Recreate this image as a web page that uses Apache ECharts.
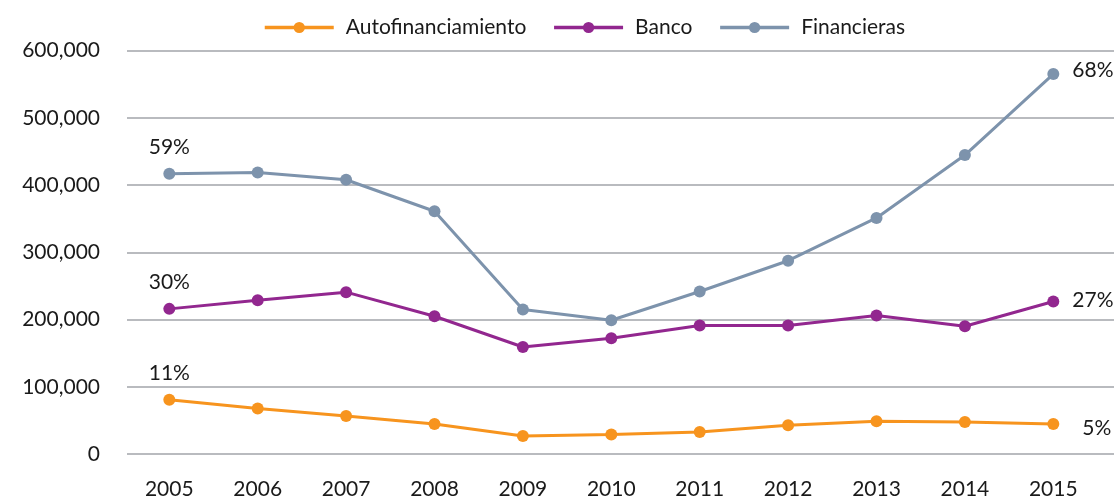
<!DOCTYPE html>
<html>
<head>
<meta charset="utf-8">
<script src="https://cdn.jsdelivr.net/npm/echarts@6/dist/echarts.min.js"></script>
<style>
  html, body { margin: 0; padding: 0; background: #ffffff; }
  #chart { width: 1114px; height: 500px; }
</style>
</head>
<body>
<div id="chart"></div>
<script>
// ---- data ----
const years = ['2005','2006','2007','2008','2009','2010','2011','2012','2013','2014','2015'];
const autofinanciamiento = [78000, 65000, 54000, 42000, 24000, 26000, 30000, 40000, 46000, 45000, 42000];
const banco = [214000, 227000, 239000, 203000, 157000, 170000, 189000, 189000, 204000, 188000, 225000];
const financieras = [416000, 418000, 407000, 360000, 213000, 197000, 240000, 286000, 350000, 444000, 565000];
const seriesNames = ['Autofinanciamiento', 'Banco', 'Financieras'];
// share labels shown at first and last point
const firstShare = ['11%', '30%', '59%'];
const lastShare = ['5%', '27%', '68%'];
const yTicks = [0, 100000, 200000, 300000, 400000, 500000, 600000];

const colors = ['#F7941E', '#92278F', '#7D93AC'];
const FONT = 'Lato';
const TXT = '#1a1a1a';

const chart = echarts.init(document.getElementById('chart'), null, { renderer: 'canvas' });

const seriesData = [autofinanciamiento, banco, financieras];
const lastOffsets = [[16, 4], [6, -1], [6, -4]];

const series = seriesData.map((vals, si) => ({
  name: seriesNames[si],
  type: 'line',
  xAxisIndex: 0,
  yAxisIndex: 0,
  data: vals.map((v, i) => {
    const d = { value: v };
    if (i === 0) {
      d.label = { show: true, position: 'top', distance: 10, formatter: firstShare[si] };
    } else if (i === vals.length - 1) {
      d.label = { show: true, position: 'right', distance: 7, offset: lastOffsets[si], formatter: lastShare[si] };
    }
    return d;
  }),
  symbol: 'circle',
  symbolSize: 12,
  showSymbol: true,
  lineStyle: { color: colors[si], width: 3 },
  itemStyle: { color: colors[si] },
  label: { show: false, color: TXT, fontFamily: FONT, fontSize: 21 },
  emphasis: { disabled: true },
  animation: false,
  z: 3 + si
}));

const option = {
  animation: false,
  textStyle: { fontFamily: FONT },
  legend: {
    left: 258,
    top: 12,
    itemWidth: 69,
    itemHeight: 14,
    itemGap: 26,
    data: seriesNames,
    lineStyle: { width: 3.5 },
    textStyle: { color: TXT, fontFamily: FONT, fontSize: 21, padding: [0, 0, 0, 7] },
    selectedMode: false
  },
  grid: [
    { left: 125.1, right: 16.5, top: 50.7, bottom: 46, containLabel: false },
    { left: 127, right: 0, top: 50.7, bottom: 46, containLabel: false }
  ],
  xAxis: [
    {
      type: 'category',
      gridIndex: 0,
      data: years,
      boundaryGap: true,
      axisLine: { show: false },
      axisTick: { show: false },
      axisLabel: { color: TXT, fontFamily: FONT, fontSize: 21, margin: 27 },
      splitLine: { show: false }
    },
    {
      type: 'value',
      gridIndex: 1,
      min: 0, max: 1,
      show: false
    }
  ],
  yAxis: [
    {
      type: 'value',
      gridIndex: 0,
      min: 0, max: 600000, interval: 100000,
      show: false
    },
    {
      type: 'value',
      gridIndex: 1,
      min: yTicks[0], max: yTicks[yTicks.length - 1], interval: 100000,
      axisLine: { show: false },
      axisTick: { show: false },
      axisLabel: {
        color: TXT, fontFamily: FONT, fontSize: 21, margin: 27,
        formatter: v => v.toLocaleString('en-US')
      },
      splitLine: { show: true, lineStyle: { color: '#A2A5AA', width: 1.5 } }
    }
  ],
  series: series
};

chart.setOption(option);
</script>
</body>
</html>
